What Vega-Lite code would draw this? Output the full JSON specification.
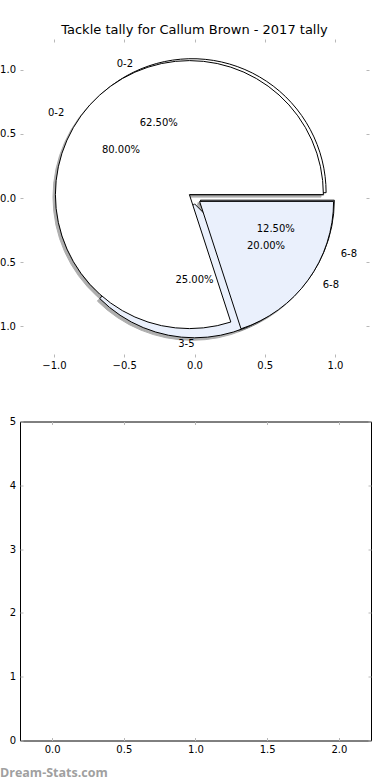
{
  "$schema": "https://vega.github.io/schema/vega-lite/v6.json",
  "background": "white",
  "padding": {"left": -9, "top": 23, "right": 0, "bottom": 0},
  "datasets": {
    "pies": [
      {"pie": "A", "label": "0-2", "share": 0.625, "order": 1},
      {"pie": "A", "label": "3-5", "share": 0.25, "order": 2},
      {"pie": "A", "label": "6-8", "share": 0.125, "order": 3},
      {"pie": "B", "label": "0-2", "share": 0.8, "order": 1},
      {"pie": "B", "label": "6-8", "share": 0.2, "order": 2}
    ]
  },
  "spacing": 64.5,
  "bounds": "flush",
  "vconcat": [
    {
      "width": 349,
      "height": 318,
      "data": {"name": "pies"},
      "view": {"stroke": null},
      "title": {"text": "Tackle tally for Callum Brown - 2017 tally", "font": "DejaVu Sans", "fontSize": 13, "fontWeight": "normal", "color": "#000000", "anchor": "middle", "baseline": "alphabetic", "offset": -8},
      "transform": [
        {"stack": "share", "groupby": ["pie"], "sort": [{"field": "order", "order": "ascending"}], "as": ["t0", "t1"]}
      ],
      "encoding": {
        "x": {"datum": 0, "type": "quantitative", "scale": {"domain": [-1.242, 1.242], "nice": false, "zero": false}, "axis": null},
        "y": {"datum": 0, "type": "quantitative", "scale": {"domain": [-1.242, 1.242], "nice": false, "zero": false}, "axis": null}
      },
      "layer": [
        {
          "mark": {"type": "point", "opacity": 0},
          "encoding": {
            "x": {"datum": 0, "type": "quantitative", "scale": {"domain": [-1.242, 1.242], "nice": false, "zero": false}, "axis": {"orient": "bottom", "title": null, "values": [-1, -0.5, 0, 0.5, 1], "format": ".1f", "labelPadding": 6.75}},
            "y": {"datum": 0, "type": "quantitative", "scale": {"domain": [-1.242, 1.242], "nice": false, "zero": false}, "axis": {"orient": "left", "title": null, "values": [-1, -0.5, 0, 0.5, 1], "format": ".1f", "labelPadding": 7.5}}
          }
        },
        {
          "mark": {"type": "point", "opacity": 0},
          "encoding": {
            "x": {"datum": 0, "type": "quantitative", "scale": {"domain": [-1.242, 1.242], "nice": false, "zero": false}, "axis": {"orient": "top", "title": null, "values": [-1, -0.5, 0, 0.5, 1], "labels": false}},
            "y": {"datum": 0, "type": "quantitative", "scale": {"domain": [-1.242, 1.242], "nice": false, "zero": false}, "axis": {"orient": "right", "title": null, "values": [-1, -0.5, 0, 0.5, 1], "labels": false}}
          }
        },
        {
          "transform": [{"filter": "datum.pie == 'A' && datum.label == '0-2'"}],
          "mark": {"type": "arc", "radius": 134, "xOffset": -4.8, "yOffset": -2.8, "fill": "#4d4d4d", "opacity": 0.45, "stroke": "#4d4d4d", "strokeWidth": 1},
          "encoding": {"theta": {"field": "t0", "type": "quantitative", "stack": null, "scale": {"domain": [0, 1], "range": [1.5707963, -4.712389]}}, "theta2": {"field": "t1"}}
        },
        {
          "transform": [{"filter": "datum.pie == 'A' && datum.label == '3-5'"}],
          "mark": {"type": "arc", "radius": 134, "xOffset": -2.4, "yOffset": 8.3, "fill": "#4d4d4d", "opacity": 0.45, "stroke": "#4d4d4d", "strokeWidth": 1},
          "encoding": {"theta": {"field": "t0", "type": "quantitative", "stack": null, "scale": {"domain": [0, 1], "range": [1.5707963, -4.712389]}}, "theta2": {"field": "t1"}}
        },
        {
          "transform": [{"filter": "datum.pie == 'A' && datum.label == '6-8'"}],
          "mark": {"type": "arc", "radius": 134, "xOffset": 3.4, "yOffset": 4.7, "fill": "#4d4d4d", "opacity": 0.45, "stroke": "#4d4d4d", "strokeWidth": 1},
          "encoding": {"theta": {"field": "t0", "type": "quantitative", "stack": null, "scale": {"domain": [0, 1], "range": [1.5707963, -4.712389]}}, "theta2": {"field": "t1"}}
        },
        {
          "transform": [{"filter": "datum.pie == 'B' && datum.label == '0-2'"}],
          "mark": {"type": "arc", "radius": 134, "xOffset": -7.5, "yOffset": -0.9, "fill": "#4d4d4d", "opacity": 0.45, "stroke": "#4d4d4d", "strokeWidth": 1},
          "encoding": {"theta": {"field": "t0", "type": "quantitative", "stack": null, "scale": {"domain": [0, 1], "range": [1.5707963, -4.712389]}}, "theta2": {"field": "t1"}}
        },
        {
          "transform": [{"filter": "datum.pie == 'B' && datum.label == '6-8'"}],
          "mark": {"type": "arc", "radius": 134, "xOffset": 2.7, "yOffset": 5.9, "fill": "#4d4d4d", "opacity": 0.45, "stroke": "#4d4d4d", "strokeWidth": 1},
          "encoding": {"theta": {"field": "t0", "type": "quantitative", "stack": null, "scale": {"domain": [0, 1], "range": [1.5707963, -4.712389]}}, "theta2": {"field": "t1"}}
        },
        {
          "transform": [{"filter": "datum.pie == 'A' && datum.label == '0-2'"}],
          "mark": {"type": "arc", "radius": 134, "xOffset": -2.4, "yOffset": -5.3, "stroke": "#000000", "strokeWidth": 1},
          "encoding": {"theta": {"field": "t0", "type": "quantitative", "stack": null, "scale": {"domain": [0, 1], "range": [1.5707963, -4.712389]}}, "theta2": {"field": "t1"},
            "fill": {"field": "label", "type": "nominal", "scale": {"domain": ["0-2", "3-5", "6-8"], "range": ["#ffffff", "#eaf0fc", "#eaf0fc"]}, "legend": null}}
        },
        {
          "transform": [{"filter": "datum.pie == 'A' && datum.label == '3-5'"}],
          "mark": {"type": "arc", "radius": 134, "xOffset": 0, "yOffset": 5.8, "stroke": "#000000", "strokeWidth": 1},
          "encoding": {"theta": {"field": "t0", "type": "quantitative", "stack": null, "scale": {"domain": [0, 1], "range": [1.5707963, -4.712389]}}, "theta2": {"field": "t1"},
            "fill": {"field": "label", "type": "nominal", "scale": {"domain": ["0-2", "3-5", "6-8"], "range": ["#ffffff", "#eaf0fc", "#eaf0fc"]}, "legend": null}}
        },
        {
          "transform": [{"filter": "datum.pie == 'A' && datum.label == '6-8'"}],
          "mark": {"type": "arc", "radius": 134, "xOffset": 5.8, "yOffset": 2.2, "stroke": "#000000", "strokeWidth": 1},
          "encoding": {"theta": {"field": "t0", "type": "quantitative", "stack": null, "scale": {"domain": [0, 1], "range": [1.5707963, -4.712389]}}, "theta2": {"field": "t1"},
            "fill": {"field": "label", "type": "nominal", "scale": {"domain": ["0-2", "3-5", "6-8"], "range": ["#ffffff", "#eaf0fc", "#eaf0fc"]}, "legend": null}}
        },
        {
          "transform": [{"filter": "datum.pie == 'B' && datum.label == '0-2'"}],
          "mark": {"type": "arc", "radius": 134, "xOffset": -5.1, "yOffset": -3.4, "stroke": "#000000", "strokeWidth": 1},
          "encoding": {"theta": {"field": "t0", "type": "quantitative", "stack": null, "scale": {"domain": [0, 1], "range": [1.5707963, -4.712389]}}, "theta2": {"field": "t1"},
            "fill": {"field": "label", "type": "nominal", "scale": {"domain": ["0-2", "3-5", "6-8"], "range": ["#ffffff", "#eaf0fc", "#eaf0fc"]}, "legend": null}}
        },
        {
          "transform": [{"filter": "datum.pie == 'B' && datum.label == '6-8'"}],
          "mark": {"type": "arc", "radius": 134, "xOffset": 5.1, "yOffset": 3.4, "stroke": "#000000", "strokeWidth": 1},
          "encoding": {"theta": {"field": "t0", "type": "quantitative", "stack": null, "scale": {"domain": [0, 1], "range": [1.5707963, -4.712389]}}, "theta2": {"field": "t1"},
            "fill": {"field": "label", "type": "nominal", "scale": {"domain": ["0-2", "3-5", "6-8"], "range": ["#ffffff", "#eaf0fc", "#eaf0fc"]}, "legend": null}}
        },
        {
          "transform": [{"filter": "datum.pie == 'A'"}],
          "mark": {"type": "text", "radius": 80.4, "dx": -5, "dy": -1, "align": "center", "baseline": "middle", "font": "DejaVu Sans", "fontSize": 10, "color": "#000000"},
          "encoding": {"theta": {"field": "share", "type": "quantitative", "stack": true}, "order": {"field": "order", "type": "quantitative"},
            "text": {"condition": {"test": "datum.label != '0-2'", "value": ""}, "field": "share", "type": "quantitative", "format": ".2%"}}
        },
        {
          "transform": [{"filter": "datum.pie == 'A'"}],
          "mark": {"type": "text", "radius": 80.4, "dx": 0, "dy": 2, "align": "center", "baseline": "middle", "font": "DejaVu Sans", "fontSize": 10, "color": "#000000"},
          "encoding": {"theta": {"field": "share", "type": "quantitative", "stack": true}, "order": {"field": "order", "type": "quantitative"},
            "text": {"condition": {"test": "datum.label != '3-5'", "value": ""}, "field": "share", "type": "quantitative", "format": ".2%"}}
        },
        {
          "transform": [{"filter": "datum.pie == 'A'"}],
          "mark": {"type": "text", "radius": 80.4, "dx": 7, "dy": 0, "align": "center", "baseline": "middle", "font": "DejaVu Sans", "fontSize": 10, "color": "#000000"},
          "encoding": {"theta": {"field": "share", "type": "quantitative", "stack": true}, "order": {"field": "order", "type": "quantitative"},
            "text": {"condition": {"test": "datum.label != '6-8'", "value": ""}, "field": "share", "type": "quantitative", "format": ".2%"}}
        },
        {
          "transform": [{"filter": "datum.pie == 'B'"}],
          "mark": {"type": "text", "radius": 80.4, "dx": -8.5, "dy": -1, "align": "center", "baseline": "middle", "font": "DejaVu Sans", "fontSize": 10, "color": "#000000"},
          "encoding": {"theta": {"field": "share", "type": "quantitative", "stack": true}, "order": {"field": "order", "type": "quantitative"},
            "text": {"condition": {"test": "datum.label != '0-2'", "value": ""}, "field": "share", "type": "quantitative", "format": ".2%"}}
        },
        {
          "transform": [{"filter": "datum.pie == 'B'"}],
          "mark": {"type": "text", "radius": 80.4, "dx": 6.5, "dy": 1, "align": "center", "baseline": "middle", "font": "DejaVu Sans", "fontSize": 10, "color": "#000000"},
          "encoding": {"theta": {"field": "share", "type": "quantitative", "stack": true}, "order": {"field": "order", "type": "quantitative"},
            "text": {"condition": {"test": "datum.label != '6-8'", "value": ""}, "field": "share", "type": "quantitative", "format": ".2%"}}
        },
        {
          "transform": [{"filter": "datum.pie == 'A'"}],
          "mark": {"type": "text", "radius": 147.4, "dx": -5, "dy": 2, "align": "right", "baseline": "middle", "font": "DejaVu Sans", "fontSize": 10, "color": "#000000"},
          "encoding": {"theta": {"field": "share", "type": "quantitative", "stack": true}, "order": {"field": "order", "type": "quantitative"},
            "text": {"condition": {"test": "datum.label != '0-2'", "value": ""}, "field": "label", "type": "nominal"}}
        },
        {
          "transform": [{"filter": "datum.pie == 'A'"}],
          "mark": {"type": "text", "radius": 147.4, "dx": 0, "dy": -1, "align": "right", "baseline": "middle", "font": "DejaVu Sans", "fontSize": 10, "color": "#000000"},
          "encoding": {"theta": {"field": "share", "type": "quantitative", "stack": true}, "order": {"field": "order", "type": "quantitative"},
            "text": {"condition": {"test": "datum.label != '3-5'", "value": ""}, "field": "label", "type": "nominal"}}
        },
        {
          "transform": [{"filter": "datum.pie == 'A'"}],
          "mark": {"type": "text", "radius": 147.4, "dx": 10, "dy": 0, "align": "left", "baseline": "middle", "font": "DejaVu Sans", "fontSize": 10, "color": "#000000"},
          "encoding": {"theta": {"field": "share", "type": "quantitative", "stack": true}, "order": {"field": "order", "type": "quantitative"},
            "text": {"condition": {"test": "datum.label != '6-8'", "value": ""}, "field": "label", "type": "nominal"}}
        },
        {
          "transform": [{"filter": "datum.pie == 'B'"}],
          "mark": {"type": "text", "radius": 147.4, "dx": -11, "dy": 2, "align": "right", "baseline": "middle", "font": "DejaVu Sans", "fontSize": 10, "color": "#000000"},
          "encoding": {"theta": {"field": "share", "type": "quantitative", "stack": true}, "order": {"field": "order", "type": "quantitative"},
            "text": {"condition": {"test": "datum.label != '0-2'", "value": ""}, "field": "label", "type": "nominal"}}
        },
        {
          "transform": [{"filter": "datum.pie == 'B'"}],
          "mark": {"type": "text", "radius": 147.4, "dx": 9, "dy": 0, "align": "left", "baseline": "middle", "font": "DejaVu Sans", "fontSize": 10, "color": "#000000"},
          "encoding": {"theta": {"field": "share", "type": "quantitative", "stack": true}, "order": {"field": "order", "type": "quantitative"},
            "text": {"condition": {"test": "datum.label != '6-8'", "value": ""}, "field": "label", "type": "nominal"}}
        }
      ],
      "resolve": {"axis": {"x": "independent", "y": "independent"}}
    },
    {
      "width": 351,
      "height": 319,
      "view": {"stroke": "#000000", "strokeWidth": 1},
      "title": {"text": "Dream-Stats.com", "orient": "bottom", "anchor": "start", "frame": "group", "font": "Open Sans", "fontSize": 12.5, "fontWeight": "bold", "color": "#a0a0a0", "baseline": "alphabetic", "offset": 23, "dx": -20},
      "layer": [
        {
          "mark": {"type": "point", "opacity": 0},
          "encoding": {
            "x": {"datum": 0, "type": "quantitative", "scale": {"domain": [-0.224, 2.224], "nice": false, "zero": false}, "axis": {"orient": "bottom", "title": null, "values": [0, 0.5, 1, 1.5, 2], "format": ".1f", "labelPadding": 6.55}},
            "y": {"datum": 0, "type": "quantitative", "scale": {"domain": [0, 5], "nice": false, "zero": false}, "axis": {"orient": "left", "title": null, "values": [0, 1, 2, 3, 4, 5], "format": "d", "labelPadding": 7.3}}
          }
        },
        {
          "mark": {"type": "point", "opacity": 0},
          "encoding": {
            "x": {"datum": 0, "type": "quantitative", "scale": {"domain": [-0.224, 2.224], "nice": false, "zero": false}, "axis": {"orient": "top", "title": null, "values": [0, 0.5, 1, 1.5, 2], "labels": false}},
            "y": {"datum": 0, "type": "quantitative", "scale": {"domain": [0, 5], "nice": false, "zero": false}, "axis": {"orient": "right", "title": null, "values": [0, 1, 2, 3, 4, 5], "labels": false}}
          }
        }
      ],
      "resolve": {"axis": {"x": "independent", "y": "independent"}}
    }
  ],
  "config": {
    "font": "DejaVu Sans",
    "axis": {"domain": false, "grid": false, "ticks": true, "tickColor": "#b8b8b8", "tickSize": -3, "tickWidth": 1, "labelFont": "DejaVu Sans", "labelFontSize": 10, "labelColor": "#000000", "labelOverlap": false, "labelFlush": false}
  }
}
